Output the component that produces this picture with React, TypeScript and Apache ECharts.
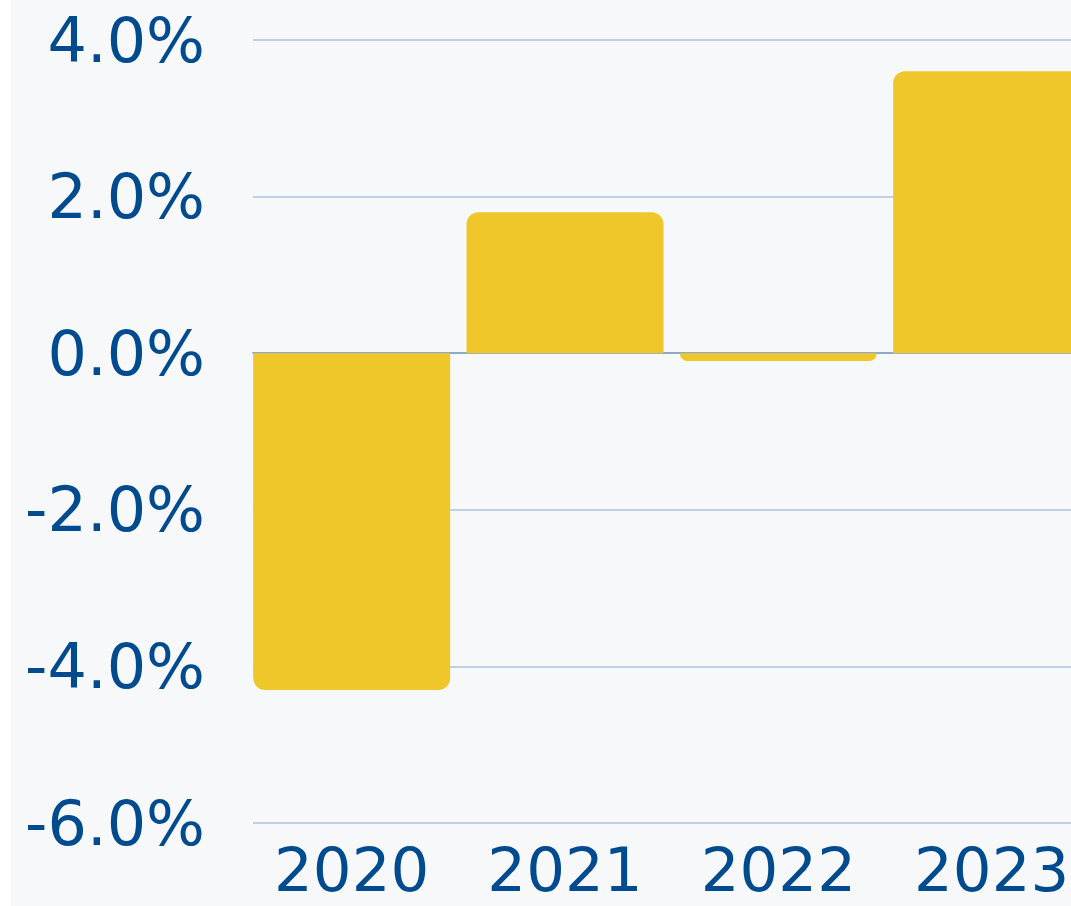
import React, { useEffect, useRef } from "react";
import * as echarts from "echarts";

const years = ["2020", "2021", "2022", "2023"];
const growth = [-4.3, 1.8, -0.1, 3.6];
const spacer = [null, null, null, null];
const yMin = -6;
const yMax = 4;
const yStep = 2;

export default function App() {
  const ref = useRef<HTMLDivElement>(null);
  useEffect(() => {
    if (!ref.current) return;
    const chart = echarts.init(ref.current, undefined, { renderer: "svg" });
    const font = "DejaVu Sans";
    const blue = "#004a8f";
    chart.setOption({
      animation: false,
      backgroundColor: "#f6f8fa",
      grid: { left: 242, top: 40, width: 853.33, height: 783, containLabel: false },
      xAxis: {
        type: "category",
        data: years,
        axisTick: { show: false },
        axisLine: { show: true, lineStyle: { color: "#8fa9cc", width: 2 } },
        axisLabel: {
          interval: 0,
          color: blue,
          fontFamily: font,
          fontSize: 61,
          lineHeight: 50,
          margin: 21,
          padding: [0, 16, 0, 0],
        },
      },
      yAxis: {
        type: "value",
        min: yMin,
        max: yMax,
        interval: yStep,
        axisLine: { show: false },
        axisTick: { show: false },
        splitLine: { lineStyle: { color: "#bfd0e5", width: 2 } },
        axisLabel: {
          color: blue,
          fontFamily: font,
          fontSize: 62,
          margin: 48,
          formatter: (v: number) => v.toFixed(1) + "%",
        },
      },
      series: [
        {
          type: "bar",
          barWidth: 197,
          barGap: 0,
          data: growth.map((v) => ({
            value: v,
            itemStyle: {
              color: "#efc72b",
              borderRadius: v >= 0 ? [12, 12, 0, 0] : [0, 0, 12, 12],
            },
          })),
        },
        {
          type: "bar",
          barWidth: 16,
          barGap: 0,
          data: spacer,
        },
      ],
    });
    return () => chart.dispose();
  }, []);
  return (
    <div
      style={{
        position: "absolute",
        left: 11,
        top: 0,
        width: 1060,
        height: 906,
        overflow: "hidden",
      }}
    >
      <div ref={ref} style={{ width: 1110, height: 906 }} />
    </div>
  );
}
